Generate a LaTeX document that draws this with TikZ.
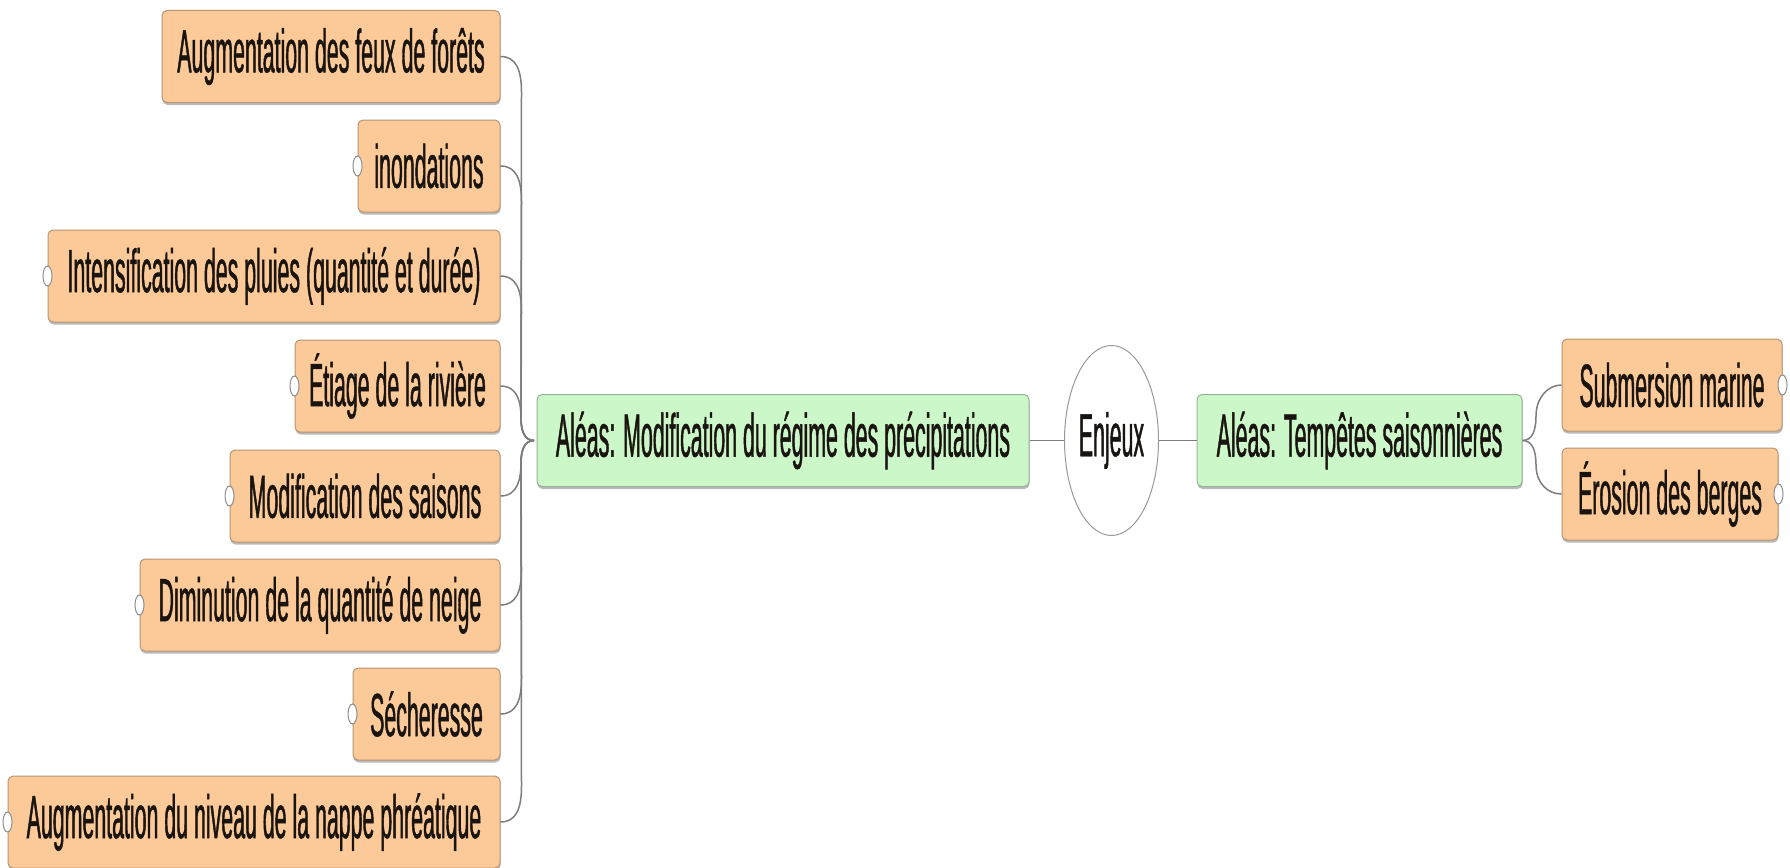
\documentclass[tikz,border=0pt]{standalone}
\usepackage{fontspec}
\setmainfont[FakeStretch=0.35,FakeBold=0.7]{Liberation Sans}
\usetikzlibrary{shapes.geometric,shadows,calc}
\definecolor{orfill}{RGB}{252,202,153}
\definecolor{ordraw}{RGB}{185,148,112}
\definecolor{grfill}{RGB}{204,247,200}
\definecolor{grdraw}{RGB}{150,178,150}
\definecolor{linkc}{RGB}{125,125,125}
\definecolor{txt}{RGB}{25,20,15}
\tikzset{
  base/.style={rectangle, rounded corners=5pt, inner sep=0pt, line width=1pt,
    minimum height=92pt, text=txt, font=\fontsize{61pt}{63pt}\selectfont,
    drop shadow={shadow xshift=0.5pt, shadow yshift=-2.5pt, fill=black!45, opacity=0.6}},
  orbox/.style={base, draw=ordraw, fill=orfill},
  grbox/.style={base, draw=grdraw, fill=grfill},
  centre/.style={ellipse, draw=black!40, fill=white, line width=1pt, inner sep=0pt,
    minimum width=94pt, minimum height=190pt, text=txt, font=\fontsize{61pt}{63pt}\selectfont},
  knob/.style={ellipse, draw=black!45, fill=white, line width=1pt, inner sep=0pt,
    minimum width=9pt, minimum height=20pt},
  link/.style={draw=linkc, line width=1.5pt}
}
\begin{document}
\begin{tikzpicture}[x=1pt,y=-1pt]
\useasboundingbox (0,0) rectangle (1790,867);
% left orange boxes
\node[orbox, minimum width=338pt] (b1) at (331,56.5) {Augmentation des feux de forêts};
\node[orbox, minimum width=142pt] (b2) at (429,166) {inondations};
\node[orbox, minimum width=452pt] (b3) at (274,276) {Intensification des pluies (quantité et durée)};
\node[orbox, minimum width=205pt] (b4) at (397.5,386) {Étiage de la rivière};
\node[orbox, minimum width=270pt] (b5) at (365,496) {Modification des saisons};
\node[orbox, minimum width=360pt] (b6) at (320,605) {Diminution de la quantité de neige};
\node[orbox, minimum width=147pt] (b7) at (426.5,714) {Sécheresse};
\node[orbox, minimum width=492pt] (b8) at (254,822) {Augmentation du niveau de la nappe phréatique};
% centre
\node[grbox, minimum width=492pt] (g1) at (783,440.5) {Aléas: Modification du régime des précipitations};
\node[centre] (en) at (1111.5,440.5) {Enjeux};
\node[grbox, minimum width=325pt] (g2) at (1359.5,440.5) {Aléas: Tempêtes saisonnières};
% right boxes
\node[orbox, minimum width=220pt] (s1) at (1672,385) {Submersion marine};
\node[orbox, minimum width=216pt] (s2) at (1670,494) {Érosion des berges};
% knobs
\node[knob] (k2) at (b2.west) {};
\node[knob] (k3) at (b3.west) {};
\node[knob] (k4) at (b4.west) {};
\node[knob] (k5) at (b5.west) {};
\node[knob] (k6) at (b6.west) {};
\node[knob] (k7) at (b7.west) {};
\node[knob] (k8) at (b8.west) {};
\node[knob] (ks1) at (s1.east) {};
\node[knob] (ks2) at (s2.east) {};
% connector coordinates
\coordinate (hub) at (534,440.5);
\coordinate (tU) at (521,418);
\coordinate (tD) at (521,463);
\coordinate (rU) at (1536,416);
\coordinate (rD) at (1536,465);
% left connectors
\foreach \b in {b1,b2,b3}{
  \draw[link] (\b.east) .. controls +(16,0) and +(0,-22) .. ($(\b.east)+(21,36)$) -- (tU) .. controls +(0,14) and +(-9,0) .. (hub);
}
\foreach \b in {b6,b7,b8}{
  \draw[link] (\b.east) .. controls +(16,0) and +(0,22) .. ($(\b.east)+(21,-36)$) -- (tD) .. controls +(0,-14) and +(-9,0) .. (hub);
}
\draw[link] (b4.east) .. controls +(18,0) and +(0,-14) .. (tU) .. controls +(0,14) and +(-9,0) .. (hub);
\draw[link] (b5.east) .. controls +(18,0) and +(0,14) .. (tD) .. controls +(0,-14) and +(-9,0) .. (hub);
% centre connectors
\draw[link] (g1.east) -- (en.west);
\draw[link] (en.east) -- (g2.west);
% right connectors
\draw[link] (g2.east) .. controls +(10,0) and +(0,14) .. (rU) .. controls +(0,-18) and +(-14,0) .. (s1.west);
\draw[link] (g2.east) .. controls +(10,0) and +(0,-14) .. (rD) .. controls +(0,18) and +(-14,0) .. (s2.west);
\end{tikzpicture}
\end{document}
